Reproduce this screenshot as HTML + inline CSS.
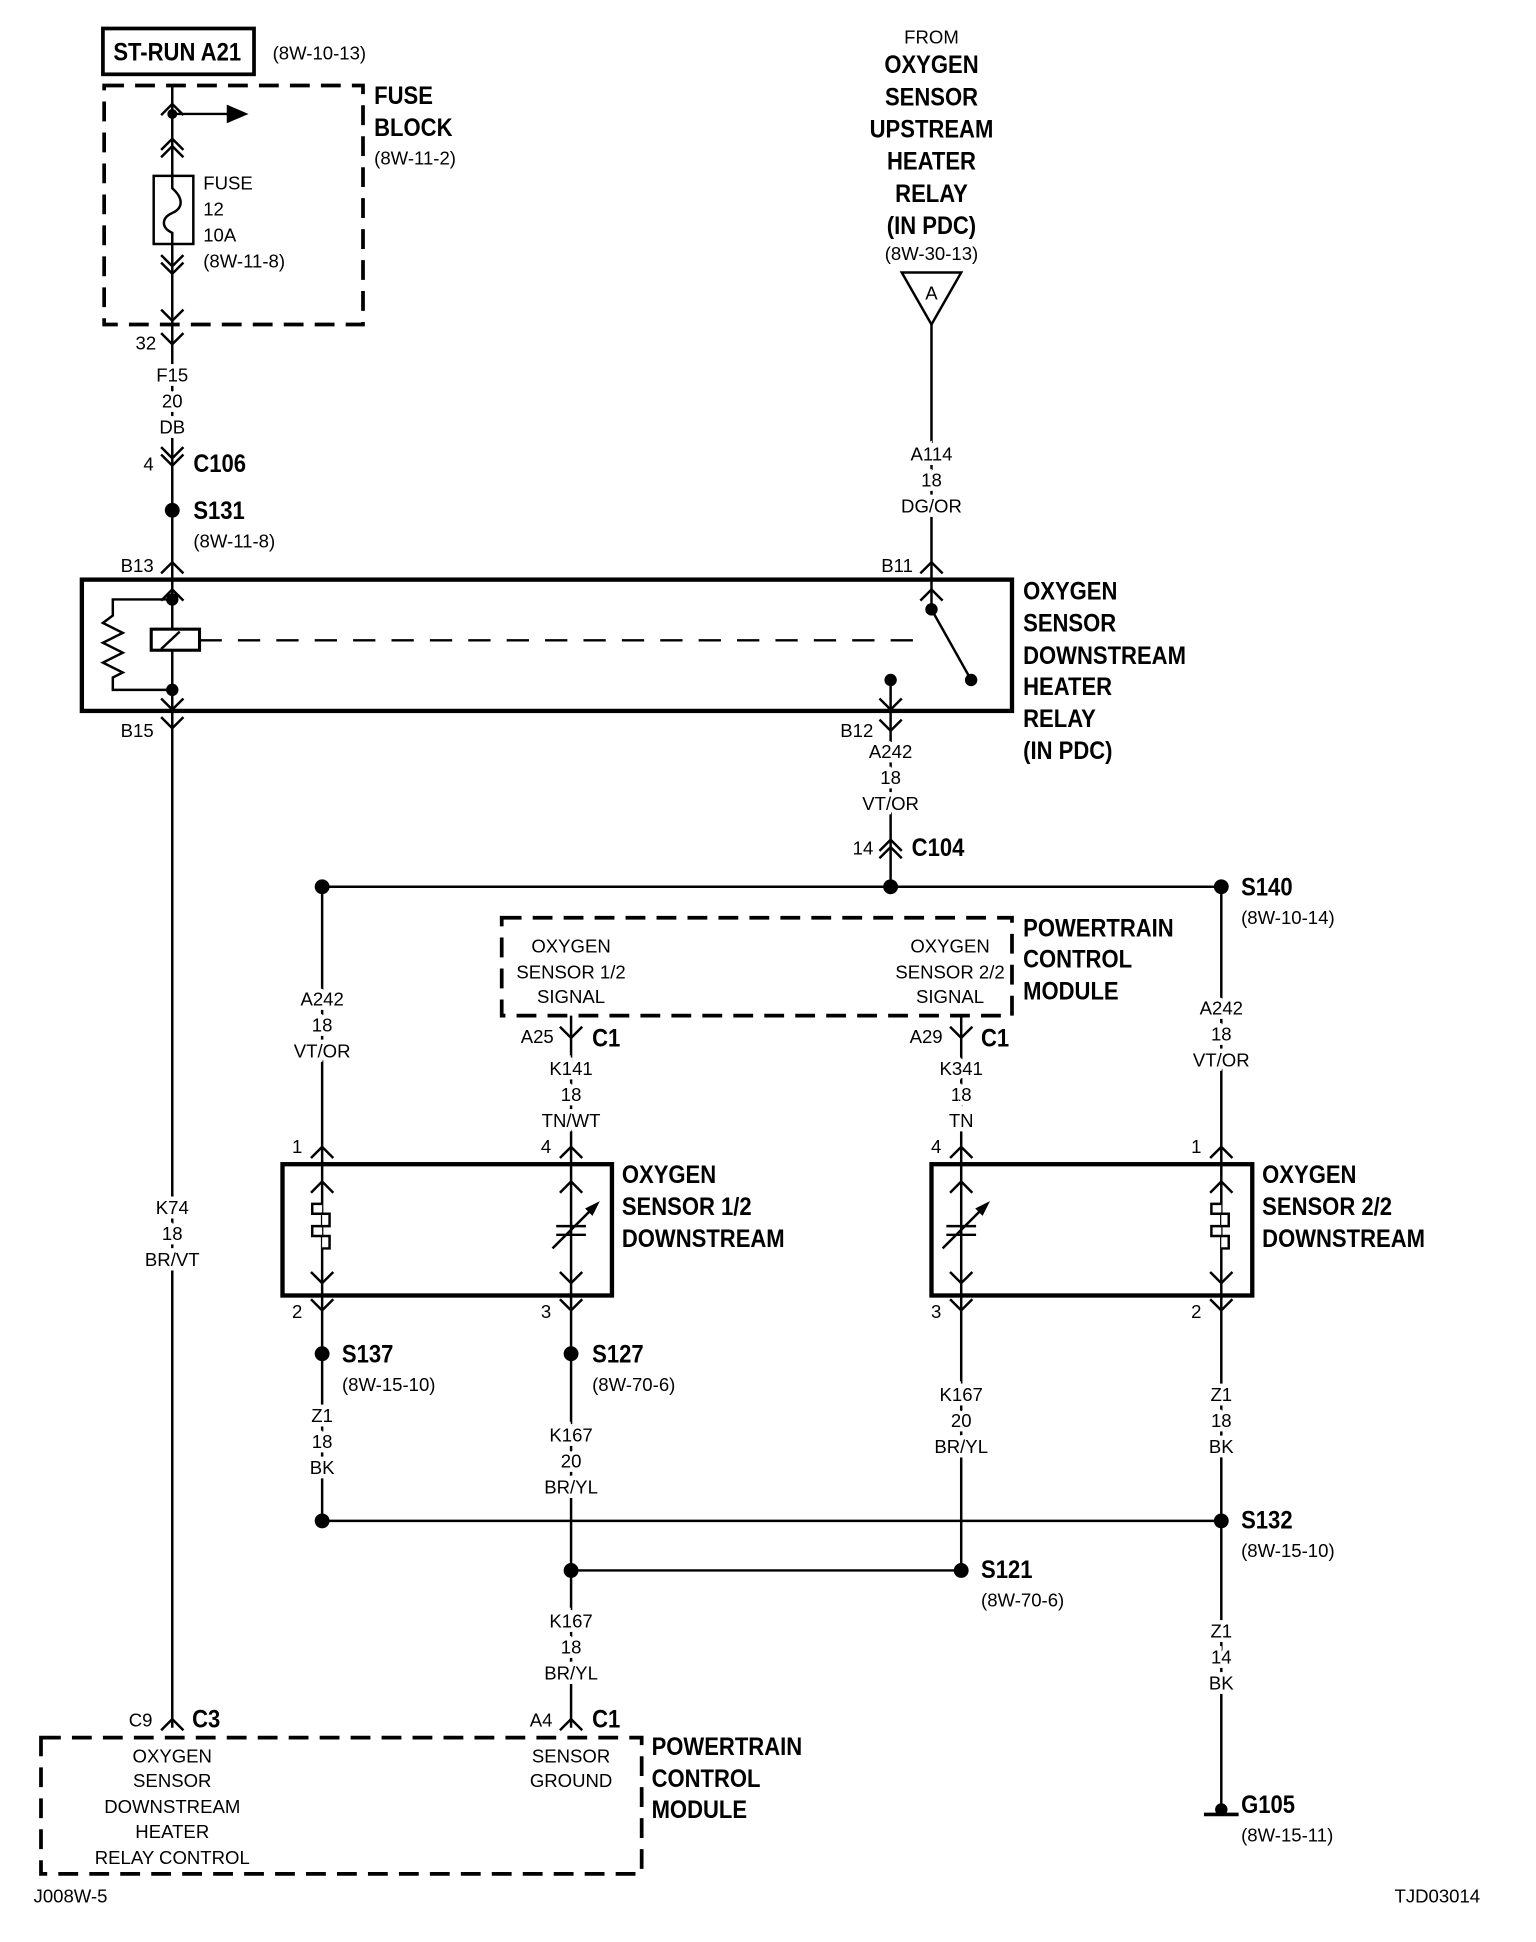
<!DOCTYPE html>
<html><head><meta charset="utf-8"><style>
html,body{margin:0;padding:0;background:#fff;}
svg{display:block}
text{font-family:"Liberation Sans Narrow","Liberation Sans",sans-serif;fill:#000}
.s{font-size:15px}
.b{font-size:20px;font-weight:bold;transform-box:fill-box;transform-origin:0% 50%;transform:scaleX(.89)}
.b.m{transform-origin:50% 50%}
.m{text-anchor:middle}
.e{text-anchor:end}
.w{stroke:#fff;stroke-width:7px;paint-order:stroke}
</style></head><body>
<svg width="1536" height="1942" viewBox="0 0 1240 1568" xmlns="http://www.w3.org/2000/svg">
<g fill="none" stroke="#000" stroke-width="2">
<rect x="83" y="23" width="122" height="37" stroke-width="3"/>
<rect x="84" y="69" width="209" height="193" stroke-width="3" stroke-dasharray="16 9"/>
<line x1="139" y1="69" x2="139" y2="1395"/>
<polyline points="130,93 139,84 148,93"/>
<line x1="139" y1="92" x2="185" y2="92"/>
<polygon points="184,86 198,92 184,98" fill="#000"/>
<polyline points="130,121 139,112 148,121"/>
<polyline points="130,127 139,118 148,127"/>
<rect x="124" y="142" width="32" height="55" fill="#fff"/>
<path d="M139,142 V152 C148,160 148,168 139,172 C130,176 130,184 139,188 V197"/>
<polyline points="130,206 139,215 148,206"/>
<polyline points="130,212 139,221 148,212"/>
<polyline points="130,250 139,259 148,250"/>
<polyline points="130,269 139,278 148,269"/>
<polyline points="130,361 139,370 148,361"/>
<polyline points="130,367 139,376 148,367"/>
<polyline points="130,463 139,454 148,463"/>
<rect x="66" y="468" width="751" height="106" stroke-width="3.5"/>
<polyline points="130,485 139,476 148,485"/>
<polyline points="139,484 91,484 91,497 83,503 99,511 83,519 99,527 83,535 99,543 91,547 91,557 139,557"/>
<rect x="122" y="508" width="39" height="17" stroke-width="2.5" fill="#fff"/>
<line x1="130" y1="524" x2="145" y2="510"/>
<line x1="161" y1="517" x2="750" y2="517" stroke-dasharray="18 13"/>
<polyline points="130,564 139,573 148,564"/>
<polyline points="130,579 139,588 148,579"/>
<polygon points="728,220 776,220 752,262"/>
<line x1="752" y1="262" x2="752" y2="492"/>
<polyline points="743,463 752,454 761,463"/>
<polyline points="743,485 752,476 761,485"/>
<line x1="752" y1="492" x2="784" y2="549"/>
<line x1="719" y1="549" x2="719" y2="716"/>
<polyline points="710,564 719,573 728,564"/>
<polyline points="710,581 719,590 728,581"/>
<polyline points="710,687 719,678 728,687"/>
<polyline points="710,693 719,684 728,693"/>
<line x1="260" y1="716" x2="986" y2="716"/>
<line x1="260" y1="716" x2="260" y2="1228"/>
<line x1="986" y1="716" x2="986" y2="1465"/>
<rect x="405" y="741" width="412" height="79" stroke-width="3" stroke-dasharray="16 9"/>
<line x1="461" y1="820" x2="461" y2="1395"/>
<line x1="776" y1="820" x2="776" y2="1268"/>
<polyline points="452,829 461,838 470,829"/>
<polyline points="767,829 776,838 785,829"/>
<rect x="228" y="940" width="266" height="106" stroke-width="3.5" fill="#fff"/>
<rect x="752" y="940" width="259" height="106" stroke-width="3.5" fill="#fff"/>
<line x1="260" y1="940" x2="260" y2="1046"/><line x1="461" y1="940" x2="461" y2="1046"/>
<line x1="776" y1="940" x2="776" y2="1046"/><line x1="986" y1="940" x2="986" y2="1046"/>
<g>
<polyline points="251,935 260,926 269,935"/><polyline points="452,935 461,926 470,935"/>
<polyline points="767,935 776,926 785,935"/><polyline points="977,935 986,926 995,935"/>
<polyline points="251,963 260,954 269,963"/><polyline points="452,963 461,954 470,963"/>
<polyline points="767,963 776,954 785,963"/><polyline points="977,963 986,954 995,963"/>
<polyline points="251,1027 260,1036 269,1027"/><polyline points="452,1027 461,1036 470,1027"/>
<polyline points="767,1027 776,1036 785,1027"/><polyline points="977,1027 986,1036 995,1027"/>
<polyline points="251,1049 260,1058 269,1049"/><polyline points="452,1049 461,1058 470,1049"/>
<polyline points="767,1049 776,1058 785,1049"/><polyline points="977,1049 986,1058 995,1049"/>
</g>
<path d="M260,972 h-8 v8 h14 v10 h-14 v8 h14 v10 h-6" fill="#fff"/>
<path d="M986,972 h-8 v8 h14 v10 h-14 v8 h14 v10 h-6" fill="#fff"/>
<line x1="449" y1="990" x2="473" y2="990"/><line x1="449" y1="997" x2="473" y2="997"/>
<line x1="446" y1="1008" x2="482" y2="972"/><polygon points="482,972 474,976 478,980" fill="#000"/>
<line x1="764" y1="990" x2="788" y2="990"/><line x1="764" y1="997" x2="788" y2="997"/>
<line x1="761" y1="1008" x2="797" y2="972"/><polygon points="797,972 789,976 793,980" fill="#000"/>
<line x1="260" y1="1228" x2="986" y2="1228"/>
<line x1="461" y1="1268" x2="776" y2="1268"/>
<polyline points="130,1397 139,1388 148,1397"/>
<polyline points="452,1397 461,1388 470,1397"/>
<rect x="33" y="1403" width="485" height="110" stroke-width="3" stroke-dasharray="16 9"/>
<line x1="972" y1="1465" x2="1000" y2="1465" stroke-width="3"/>
</g>
<g fill="#000">
<circle cx="139" cy="92" r="4"/>
<circle cx="139" cy="412" r="6"/>
<circle cx="139" cy="484" r="5"/><circle cx="139" cy="557" r="5"/>
<circle cx="752" cy="492" r="5"/><circle cx="784" cy="549" r="5"/><circle cx="719" cy="549" r="5"/>
<circle cx="260" cy="716" r="6"/><circle cx="719" cy="716" r="6"/><circle cx="986" cy="716" r="6"/>
<circle cx="260" cy="1093" r="6"/><circle cx="461" cy="1093" r="6"/>
<circle cx="260" cy="1228" r="6"/><circle cx="986" cy="1228" r="6"/>
<circle cx="461" cy="1268" r="6"/><circle cx="776" cy="1268" r="6"/>
<circle cx="986" cy="1461" r="5"/>
</g>
<text x="143" y="49" class="b m">ST-RUN A21</text>
<text x="220" y="48" class="s">(8W-10-13)</text>
<text x="302" y="84" class="b">FUSE</text>
<text x="302" y="110" class="b">BLOCK</text>
<text x="302" y="133" class="s">(8W-11-2)</text>
<text x="164" y="153" class="s">FUSE</text>
<text x="164" y="174" class="s">12</text>
<text x="164" y="195" class="s">10A</text>
<text x="164" y="216" class="s">(8W-11-8)</text>
<text x="126" y="282" class="s e">32</text>
<g class="s m">
<text x="139" y="308" class="w">F15</text><text x="139" y="329" class="w">20</text><text x="139" y="350" class="w">DB</text>
<text x="752" y="372" class="w">A114</text><text x="752" y="393" class="w">18</text><text x="752" y="414" class="w">DG/OR</text>
<text x="719" y="612" class="w">A242</text><text x="719" y="633" class="w">18</text><text x="719" y="654" class="w">VT/OR</text>
<text x="260" y="812" class="w">A242</text><text x="260" y="833" class="w">18</text><text x="260" y="854" class="w">VT/OR</text>
<text x="986" y="819" class="w">A242</text><text x="986" y="840" class="w">18</text><text x="986" y="861" class="w">VT/OR</text>
<text x="461" y="868" class="w">K141</text><text x="461" y="889" class="w">18</text><text x="461" y="910" class="w">TN/WT</text>
<text x="776" y="868" class="w">K341</text><text x="776" y="889" class="w">18</text><text x="776" y="910" class="w">TN</text>
<text x="139" y="980" class="w">K74</text><text x="139" y="1001" class="w">18</text><text x="139" y="1022" class="w">BR/VT</text>
<text x="260" y="1148" class="w">Z1</text><text x="260" y="1169" class="w">18</text><text x="260" y="1190" class="w">BK</text>
<text x="461" y="1164" class="w">K167</text><text x="461" y="1185" class="w">20</text><text x="461" y="1206" class="w">BR/YL</text>
<text x="776" y="1131" class="w">K167</text><text x="776" y="1152" class="w">20</text><text x="776" y="1173" class="w">BR/YL</text>
<text x="986" y="1131" class="w">Z1</text><text x="986" y="1152" class="w">18</text><text x="986" y="1173" class="w">BK</text>
<text x="461" y="1314" class="w">K167</text><text x="461" y="1335" class="w">18</text><text x="461" y="1356" class="w">BR/YL</text>
<text x="986" y="1322" class="w">Z1</text><text x="986" y="1343" class="w">14</text><text x="986" y="1364" class="w">BK</text>
<text x="752" y="35">FROM</text>
<text x="752" y="210">(8W-30-13)</text>
<text x="752" y="242">A</text>
<text x="461" y="769">OXYGEN</text><text x="461" y="790">SENSOR 1/2</text><text x="461" y="810">SIGNAL</text>
<text x="767" y="769">OXYGEN</text><text x="767" y="790">SENSOR 2/2</text><text x="767" y="810">SIGNAL</text>
<text x="139" y="1423">OXYGEN</text><text x="139" y="1443">SENSOR</text><text x="139" y="1464">DOWNSTREAM</text><text x="139" y="1484">HEATER</text><text x="139" y="1505">RELAY CONTROL</text>
<text x="461" y="1423">SENSOR</text><text x="461" y="1443">GROUND</text>
</g>
<text x="752" y="59" class="b m">OXYGEN</text><text x="752" y="85" class="b m">SENSOR</text><text x="752" y="111" class="b m">UPSTREAM</text>
<text x="752" y="137" class="b m">HEATER</text><text x="752" y="163" class="b m">RELAY</text><text x="752" y="189" class="b m">(IN PDC)</text>
<text x="124" y="380" class="s e">4</text><text x="156" y="381" class="b">C106</text>
<text x="156" y="419" class="b">S131</text><text x="156" y="442" class="s">(8W-11-8)</text>
<text x="124" y="462" class="s e">B13</text>
<text x="124" y="595" class="s e">B15</text>
<text x="737" y="462" class="s e">B11</text>
<text x="705" y="595" class="s e">B12</text>
<text x="705" y="690" class="s e">14</text><text x="736" y="691" class="b">C104</text>
<text x="826" y="484" class="b">OXYGEN</text><text x="826" y="510" class="b">SENSOR</text><text x="826" y="536" class="b">DOWNSTREAM</text>
<text x="826" y="561" class="b">HEATER</text><text x="826" y="587" class="b">RELAY</text><text x="826" y="613" class="b">(IN PDC)</text>
<text x="1002" y="723" class="b">S140</text>
<text x="826" y="756" class="b">POWERTRAIN</text><text x="826" y="781" class="b">CONTROL</text><text x="826" y="807" class="b">MODULE</text>
<text x="478" y="845" class="b">C1</text><text x="792" y="845" class="b">C1</text>
<text x="502" y="955" class="b">OXYGEN</text><text x="502" y="981" class="b">SENSOR 1/2</text><text x="502" y="1007" class="b">DOWNSTREAM</text>
<text x="1019" y="955" class="b">OXYGEN</text><text x="1019" y="981" class="b">SENSOR 2/2</text><text x="1019" y="1007" class="b">DOWNSTREAM</text>
<text x="276" y="1100" class="b">S137</text><text x="478" y="1100" class="b">S127</text>
<text x="1002" y="1234" class="b">S132</text><text x="792" y="1274" class="b">S121</text>
<text x="155" y="1395" class="b">C3</text><text x="478" y="1395" class="b">C1</text>
<text x="526" y="1417" class="b">POWERTRAIN</text><text x="526" y="1443" class="b">CONTROL</text><text x="526" y="1468" class="b">MODULE</text>
<text x="1002" y="1464" class="b">G105</text>
<g class="s">
<text x="1002" y="746">(8W-10-14)</text>
<text x="447" y="842" class="e">A25</text><text x="761" y="842" class="e">A29</text>
<text x="244" y="931" class="e">1</text><text x="445" y="931" class="e">4</text>
<text x="760" y="931" class="e">4</text><text x="970" y="931" class="e">1</text>
<text x="244" y="1064" class="e">2</text><text x="445" y="1064" class="e">3</text>
<text x="760" y="1064" class="e">3</text><text x="970" y="1064" class="e">2</text>
<text x="276" y="1123">(8W-15-10)</text><text x="478" y="1123">(8W-70-6)</text>
<text x="1002" y="1257">(8W-15-10)</text><text x="792" y="1297">(8W-70-6)</text>
<text x="123" y="1394" class="e">C9</text><text x="446" y="1394" class="e">A4</text>
<text x="1002" y="1487">(8W-15-11)</text>
<text x="27" y="1536">J008W-5</text>
<text x="1195" y="1536" class="e">TJD03014</text>
</g>
</svg>
</body></html>
